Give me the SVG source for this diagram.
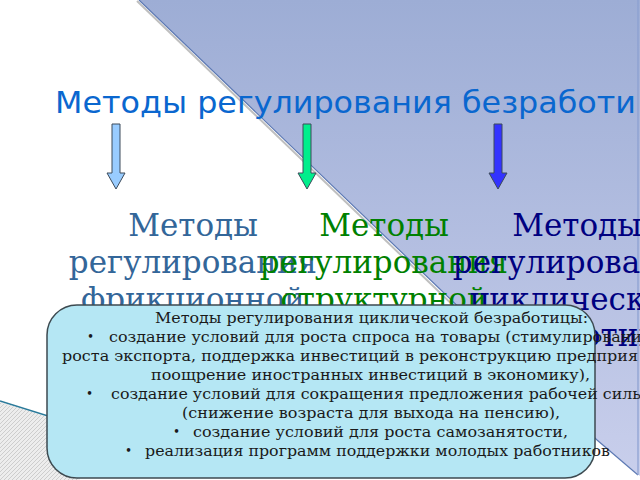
<svg xmlns="http://www.w3.org/2000/svg" width="640" height="480" viewBox="0 0 640 480">
  <defs>
    <linearGradient id="blueGrad" x1="0" y1="0" x2="0" y2="480" gradientUnits="userSpaceOnUse">
      <stop offset="0" stop-color="#9dadd5"/>
      <stop offset="1" stop-color="#c9cfec"/>
    </linearGradient>
    <pattern id="hatch" width="4" height="4" patternUnits="userSpaceOnUse">
      <rect width="4" height="4" fill="#ededed"/>
      <path d="M0,4 L4,0 M-1,1 L1,-1 M3,5 L5,3" stroke="#cdcdcd" stroke-width="1"/>
    </pattern>
    <style>
      .head { font-family: "DejaVu Serif", "Liberation Serif", serif; font-size: 31px; text-anchor: middle; }
      .c1 { fill: #336699; }
      .c2 { fill: #008000; }
      .c3 { fill: #000080; }
      .body { font-family: "DejaVu Serif", "Liberation Serif", serif; font-size: 15.5px; fill: #1a1a1a; }
      .bul { font-family: "DejaVu Serif", "Liberation Serif", serif; font-size: 12px; fill: #1a1a1a; }
      .arrow { stroke: #3c4a5a; stroke-width: 1; stroke-linejoin: miter; }
    </style>
  </defs>

  <g id="background">
    <rect x="0" y="0" width="640" height="480" fill="#ffffff"/>
    <line x1="137" y1="1" x2="595" y2="442" stroke="#8c8c8c" stroke-width="2" opacity="0.55"/>
    <polygon points="139,0 640,0 640,476 597,440" fill="url(#blueGrad)"/>
    <line x1="139" y1="0" x2="597" y2="440" stroke="#5b78b3" stroke-width="1.2"/>
    <line x1="597" y1="440" x2="638" y2="475" stroke="#5b78b3" stroke-width="1.2"/>
    <line x1="638" y1="0" x2="638" y2="475" stroke="#8a9fd0" stroke-width="1.2"/>
    <polygon points="0,402 80,427 80,480 0,480" fill="url(#hatch)"/>
    <line x1="0" y1="401" x2="80" y2="426" stroke="#2b7a9a" stroke-width="1.5"/>
  </g>

  <g id="title">
    <text x="55" y="113" font-family="DejaVu Sans, Verdana, sans-serif" font-size="31" fill="#0a67cf" textLength="581" lengthAdjust="spacingAndGlyphs">Методы регулирования безработи</text>
  </g>

  <g id="connectors">
    <polygon class="arrow" fill="#99ccff" points="112,124 120,124 120,173 125,173 116,189 107,173 112,173"/>
    <polygon class="arrow" fill="#00ee8c" points="303,124 311,124 311,173 316,173 307,189 298,173 303,173"/>
    <polygon class="arrow" fill="#3333ff" points="494,124 502,124 502,173 507,173 498,189 489,173 494,173"/>
  </g>

  <g id="frictional">
    <text class="head c1" x="193" y="236">Методы</text>
    <text class="head c1" x="193" y="273">регулирования</text>
    <text class="head c1" x="193" y="310">фрикционной</text>
  </g>

  <g id="structural">
    <text class="head c2" x="384" y="236">Методы</text>
    <text class="head c2" x="384" y="273">регулирования</text>
    <text class="head c2" x="384" y="310">структурной</text>
  </g>

  <g id="cyclical">
    <text class="head c3" x="577" y="236">Методы</text>
    <text class="head c3" x="577" y="273">регулирования</text>
    <text class="head c3" x="577" y="310">циклической</text>
    <text class="head c3" x="577" y="346">безработицы</text>
  </g>

  <g id="cyclical-box">
    <rect x="47" y="305" width="548" height="173" rx="30" ry="30" fill="#b5e7f4" stroke="#3d4a50" stroke-width="1.5"/>
    <text class="body" x="155" y="323" textLength="433" lengthAdjust="spacingAndGlyphs">Методы регулирования циклической безработицы:</text>
    <text class="bul" x="87" y="341">•</text>
    <text class="body" x="109" y="342" textLength="533" lengthAdjust="spacingAndGlyphs">создание условий для роста спроса на товары (стимулировани</text>
    <text class="body" x="62" y="361" textLength="576" lengthAdjust="spacingAndGlyphs">роста экспорта, поддержка инвестиций в реконструкцию предприя</text>
    <text class="body" x="151" y="380" textLength="439" lengthAdjust="spacingAndGlyphs">поощрение иностранных инвестиций в экономику),</text>
    <text class="bul" x="86" y="398">•</text>
    <text class="body" x="111" y="399" textLength="534" lengthAdjust="spacingAndGlyphs">создание условий для сокращения предложения рабочей силы</text>
    <text class="body" x="182" y="418" textLength="378" lengthAdjust="spacingAndGlyphs">(снижение возраста для выхода на пенсию),</text>
    <text class="bul" x="173" y="436">•</text>
    <text class="body" x="193" y="437" textLength="375" lengthAdjust="spacingAndGlyphs">создание условий для роста самозанятости,</text>
    <text class="bul" x="125" y="455">•</text>
    <text class="body" x="145" y="456" textLength="465" lengthAdjust="spacingAndGlyphs">реализация программ поддержки молодых работников</text>
  </g>
</svg>
